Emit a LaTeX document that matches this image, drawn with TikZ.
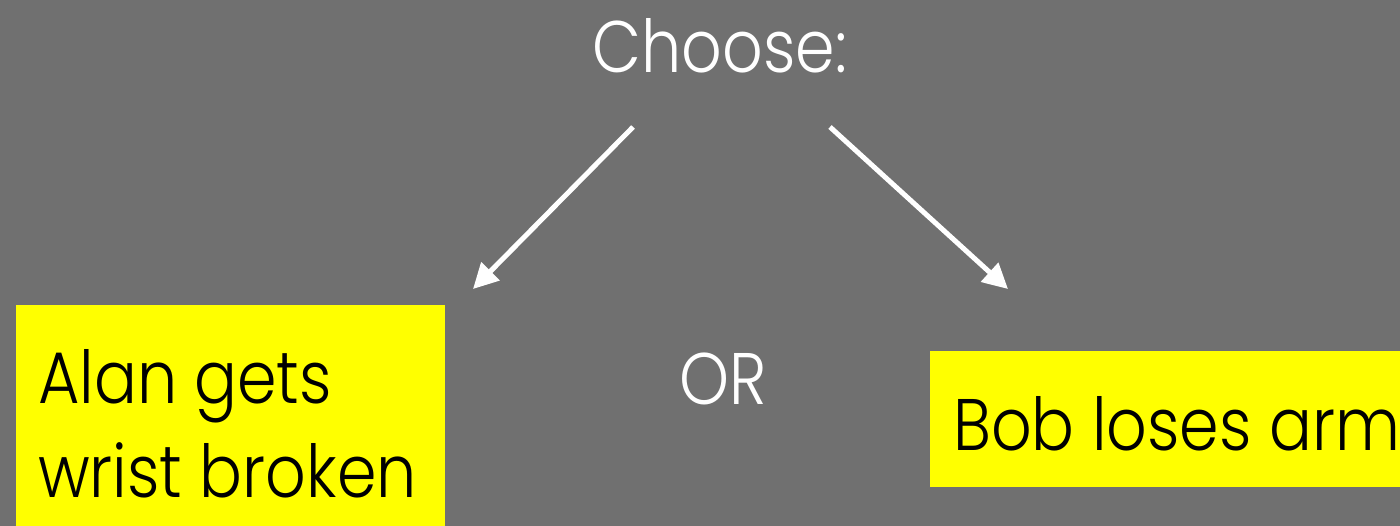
\documentclass[tikz,border=0pt]{standalone}
\usepackage{fontspec}
\setmainfont{Poppins}[UprightFont=* Light, FakeStretch=0.87]
\usetikzlibrary{arrows.meta}
\definecolor{slidegray}{RGB}{112,112,112}
\definecolor{notey}{RGB}{255,255,0}
\begin{document}
\begin{tikzpicture}[x=1pt,y=-1pt,
    bigtext/.style={font=\fontsize{73}{94}\selectfont, inner sep=0pt},
    pick/.style={draw=white, line width=5pt, -{Triangle[length=25pt,width=25pt]}}]

%% background
    \fill[slidegray] (0,0) rectangle (1400,526);
    \useasboundingbox (0,0) rectangle (1400,526);

%% yellow boxes
    \fill[notey] (16,305) rectangle (445,540);
    \fill[notey] (930,351) rectangle (1420,487);

%% texts
    \node[bigtext, text=white, anchor=base] (choose) at (720,73) {Choose:};
    \node[bigtext, text=white, anchor=base] (or) at (723,404) {OR};
    \node[bigtext, anchor=base west, align=left] (alan) at (38,497) {Alan gets\\wrist broken};
    \node[bigtext, anchor=base west] (bob) at (953,450) {Bob loses arm};

%% arrows
    \coordinate (lstart) at (633,127);
    \coordinate (lend) at (473,289);
    \coordinate (rstart) at (830,127);
    \coordinate (rend) at (1008,289);
    \draw[pick] (lstart) to (lend);
    \draw[pick] (rstart) to (rend);

\end{tikzpicture}
\end{document}
